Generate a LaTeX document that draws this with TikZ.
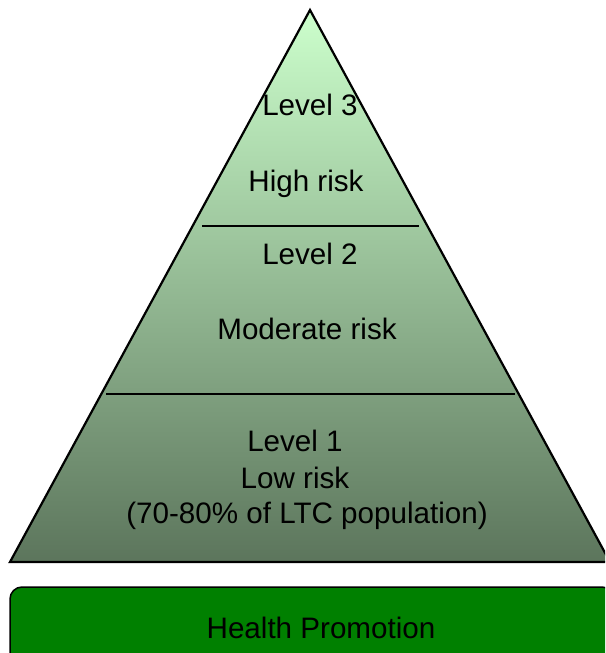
\documentclass[tikz,border=0pt]{standalone}
\usepackage{fontspec}
\setmainfont{Liberation Sans}
\definecolor{pyrtop}{RGB}{204,255,204}
\definecolor{pyrbot}{RGB}{92,117,92}
\definecolor{promo}{RGB}{0,128,0}
\begin{document}
\begin{tikzpicture}[x=1pt,y=-1pt,
  lbl/.style={anchor=base, font=\fontsize{29.6}{34}\selectfont, inner sep=0pt, text=black},
  edge/.style={draw=black, line width=2.2pt},
  divider/.style={draw=black, line width=2pt}]
\useasboundingbox (0,0) rectangle (605,653);
\clip (0,0) rectangle (605,653);
% pyramid
\coordinate (apex) at (310,10);
\coordinate (bl) at (10,562);
\coordinate (br) at (610,562);
\shade[top color=pyrtop, bottom color=pyrbot] (apex) -- (br) -- (bl) -- cycle;
\draw[edge, line join=miter] (apex) -- (br) -- (bl) -- cycle;
% dividers
\coordinate (d1a) at (202,226);
\coordinate (d1b) at (419,226);
\coordinate (d2a) at (106,394);
\coordinate (d2b) at (515,394);
\draw[divider] (d1a) -- (d1b);
\draw[divider] (d2a) -- (d2b);
% labels
\node[lbl] (l3) at (310,115) {Level 3};
\node[lbl] (hr) at (306,191) {High risk};
\node[lbl] (l2) at (310,264) {Level 2};
\node[lbl] (mr) at (307,339) {Moderate risk};
\node[lbl] (l1) at (295,451) {Level 1};
\node[lbl] (lr) at (295,488) {Low risk};
\node[lbl] (pop) at (307,523) {(70-80\% of LTC population)};
% health promotion bar
\draw[fill=promo, draw=black, line width=1.5pt, rounded corners=12pt] (10,587) rectangle (614,672);
\node[lbl] (hp) at (321,638) {Health Promotion};
\end{tikzpicture}
\end{document}
